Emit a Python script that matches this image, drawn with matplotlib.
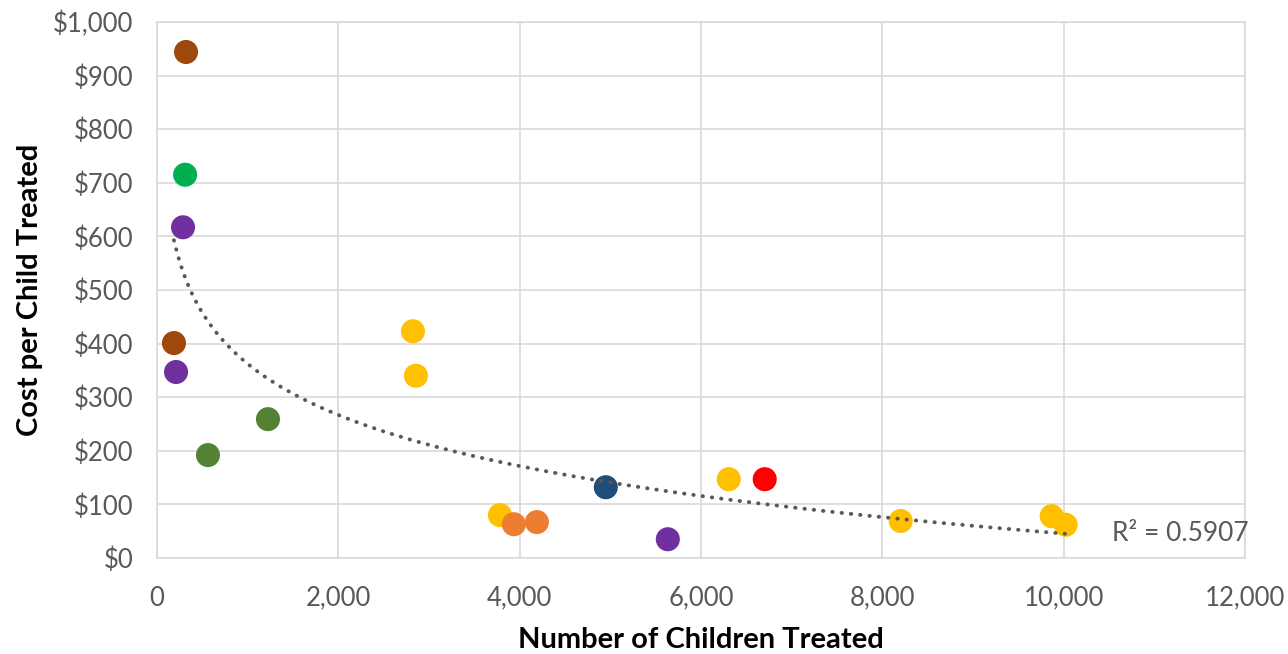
import numpy as np
import matplotlib.pyplot as plt
from matplotlib.ticker import FuncFormatter, MultipleLocator

plt.rcParams['font.family'] = ['Lato', 'DejaVu Sans']

# children treated / cost per child, one entry per programme
children = [320, 310, 287, 187, 210, 562, 1224, 2823, 2856, 3782, 3936, 4190,
            4950, 5634, 6306, 6703, 8203, 9868, 10022]
cost = [944, 715, 617, 401, 347, 192, 259, 423, 340, 80, 63, 67,
        132, 35, 147, 147, 69, 78, 62]
colors = ["#9E480E", "#00B050", "#7030A0", "#9E480E", "#7030A0", "#548235", "#548235",
          "#FFC000", "#FFC000", "#FFC000", "#ED7D31", "#ED7D31",
          "#1F4E79", "#7030A0", "#FFC000", "#FF0000", "#FFC000", "#FFC000", "#FFC000"]
r2_label = "R\u00b2 = 0.5907"

fig = plt.figure(figsize=(12.88, 6.54), dpi=100)
ax = fig.add_axes([0.1219, 0.1468, 0.8447, 0.8196])

x = np.array(children, dtype=float)
y = np.array(cost, dtype=float)

# log trendline like excel
a, b = np.polyfit(np.log(x), y, 1)
xt = np.linspace(x.min(), x.max(), 300)
ax.plot(xt, a * np.log(xt) + b, color="#595959", linewidth=2.8,
        linestyle=(0, (0.1, 2.3)), dash_capstyle='round', zorder=3)

ax.scatter(x, y, c=colors, s=300, edgecolors='none', zorder=2)

ax.set_xlim(0, 12000)
ax.set_ylim(0, 1000)
ax.xaxis.set_major_locator(MultipleLocator(2000))
ax.yaxis.set_major_locator(MultipleLocator(100))
ax.xaxis.set_major_formatter(FuncFormatter(lambda v, p: f"{v:,.0f}"))
ax.yaxis.set_major_formatter(FuncFormatter(lambda v, p: f"${v:,.0f}"))
ax.grid(True, color="#D9D9D9", linewidth=1.2, zorder=0)
ax.set_axisbelow(True)
for s in ax.spines.values():
    s.set_color("#D9D9D9")
    s.set_linewidth(1.2)
ax.tick_params(length=0, labelsize=18.5, labelcolor="#595959")
ax.tick_params(axis='x', pad=20)
ax.tick_params(axis='y', pad=17)

ax.set_xlabel("Number of Children Treated", fontsize=21, fontweight='bold', va='center')
ax.set_ylabel("Cost per Child Treated", fontsize=21, fontweight='bold', va='center')
ax.xaxis.set_label_coords(0.5, -0.153)
ax.yaxis.set_label_coords(-0.117, 0.5)

ax.text(10530, 46, r2_label, fontsize=19, color="#595959", va='center', ha='left')

fig.savefig("out.png", dpi=100)
